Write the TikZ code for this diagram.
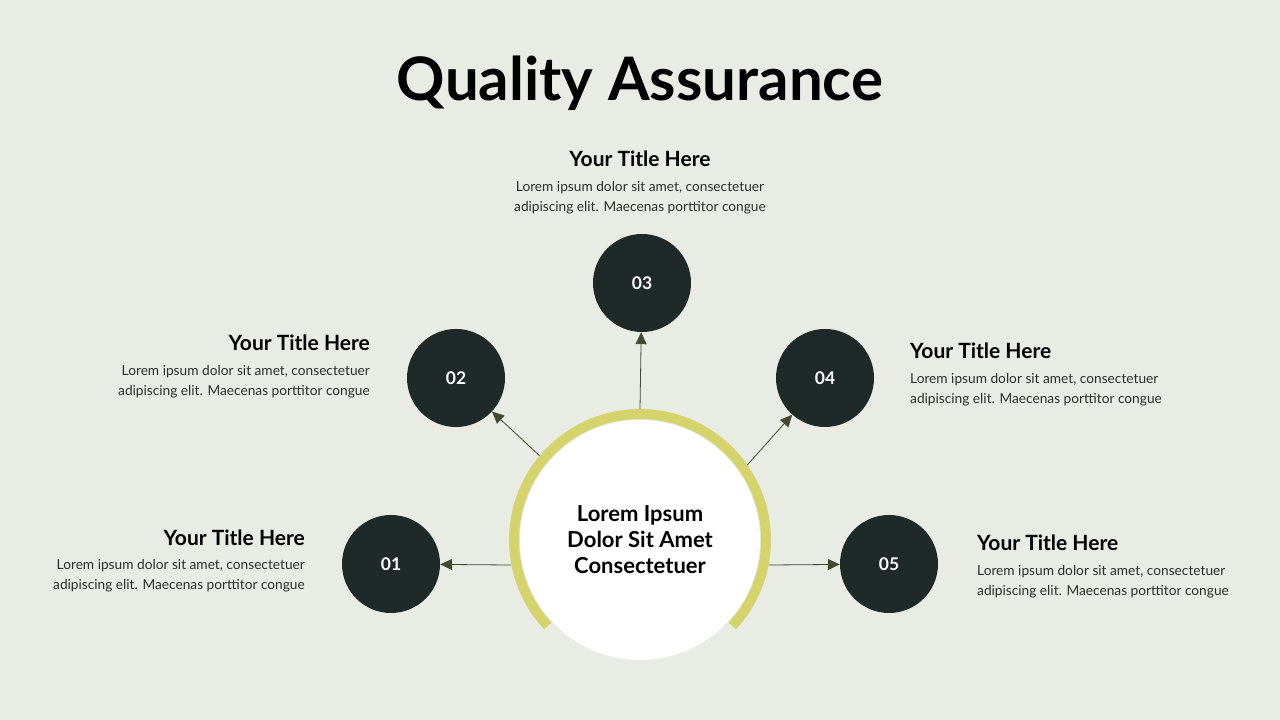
\documentclass[tikz,border=0pt]{standalone}
\usepackage{fontspec}
\setmainfont{Lato}
\usetikzlibrary{arrows.meta}

\definecolor{bgcol}{RGB}{233,236,228}
\definecolor{darkcirc}{RGB}{31,41,39}
\definecolor{ringcol}{RGB}{213,211,107}
\definecolor{arrowcol}{RGB}{67,74,48}
\definecolor{bodytext}{RGB}{45,45,45}

\begin{document}
\begin{tikzpicture}[x=1pt, y=1pt,
	numcirc/.style={circle, fill=darkcirc, minimum size=98pt, inner sep=0pt, text=white, font=\fontsize{17.5}{20}\selectfont\bfseries},
	heading/.style={inner sep=0pt, font=\fontsize{21}{24}\selectfont\bfseries},
	blurb/.style={inner sep=0pt, text=bodytext, font=\fontsize{13.7}{20}\selectfont},
	pointer/.style={draw=arrowcol, line width=0.8pt, -{Triangle[length=12pt, width=11pt]}, arrowcol}]
	\fill[bgcol] (0,0) rectangle (1280,720);
	\useasboundingbox (0,0) rectangle (1280,720);
	
	\node[anchor=base, font=\fontsize{60}{70}\selectfont\bfseries] (title) at (640,619) {Quality Assurance};
	
	\node[circle, minimum size=262pt, inner sep=0pt] (ring) at (640,180) {};
	\fill[white] (ring.center) circle (120);
	\draw[ringcol, line width=10pt] (ring.center) ++(-43:126) arc[start angle=-43, end angle=223, radius=126];
	\node[align=center, font=\fontsize{22}{26}\selectfont\bfseries] (hub) at (ring.center) {Lorem Ipsum\\Dolor Sit Amet\\Consectetuer};
	
	\node[numcirc] (n1) at (391,156) {01};
	\node[numcirc] (n2) at (456,342) {02};
	\node[numcirc] (n3) at (642,437) {03};
	\node[numcirc] (n4) at (825,342) {04};
	\node[numcirc] (n5) at (889,156) {05};
	
	\draw[pointer] (ring.191) -- (n1);
	\draw[pointer] (ring.140) -- (n2);
	\draw[pointer] (ring.90) -- (n3);
	\draw[pointer] (ring.35) -- (n4);
	\draw[pointer] (ring.349) -- (n5);
	
	\node[heading, anchor=east] (t1) at (305,182) {Your Title Here};
	\node[blurb, anchor=east, align=right] (b1) at (305,144) {Lorem ipsum dolor sit amet, consectetuer\\adipiscing elit. Maecenas porttitor congue};
	
	\node[heading, anchor=east] (t2) at (370,377) {Your Title Here};
	\node[blurb, anchor=east, align=right] (b2) at (370,338) {Lorem ipsum dolor sit amet, consectetuer\\adipiscing elit. Maecenas porttitor congue};
	
	\node[heading] (t3) at (640,561) {Your Title Here};
	\node[blurb, align=center] (b3) at (640,522) {Lorem ipsum dolor sit amet, consectetuer\\adipiscing elit. Maecenas porttitor congue};
	
	\node[heading, anchor=west] (t4) at (910,369) {Your Title Here};
	\node[blurb, anchor=west, align=left] (b4) at (910,330) {Lorem ipsum dolor sit amet, consectetuer\\adipiscing elit. Maecenas porttitor congue};
	
	\node[heading, anchor=west] (t5) at (977,177) {Your Title Here};
	\node[blurb, anchor=west, align=left] (b5) at (977,138) {Lorem ipsum dolor sit amet, consectetuer\\adipiscing elit. Maecenas porttitor congue};
\end{tikzpicture}
\end{document}
